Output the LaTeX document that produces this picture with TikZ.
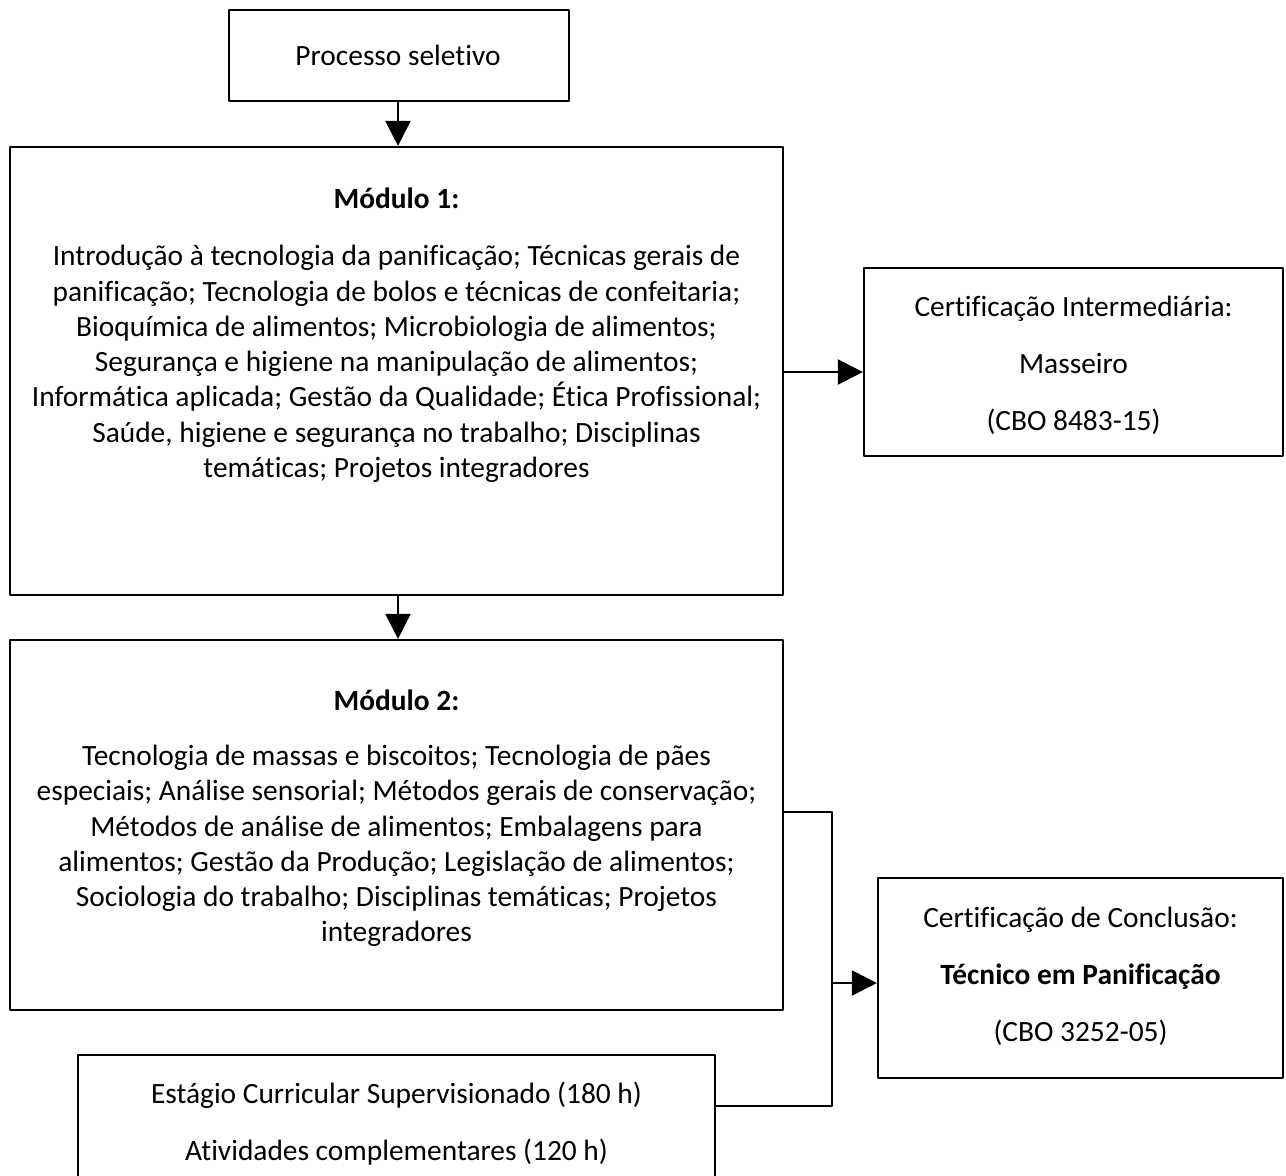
\documentclass[tikz,border=0pt]{standalone}
\usepackage{fontspec}
\setmainfont{Carlito}[Ligatures=CommonOff]
\usetikzlibrary{arrows.meta,fit,positioning}

\begin{document}
\begin{tikzpicture}[x=0.5pt,y=-0.5pt,line cap=round,line join=round]
    % styles
    \tikzstyle{box}=[draw=black,line width=1.1pt,inner sep=0pt]
    \tikzstyle{txt}=[font=\fontsize{14.7}{17.65}\selectfont,align=center,inner sep=0pt]
    \tikzstyle{cert}=[font=\fontsize{14.7}{28.5}\selectfont,align=center,inner sep=0pt]
    \tikzstyle{arr}=[line width=1.1pt,-{Triangle[length=12.5pt,width=12.5pt]}]
    \tikzstyle{wire}=[line width=1.1pt]

    % page (the bottom box runs off the page)
    \useasboundingbox (0,0) rectangle (1286,1175);
    \clip (0,0) rectangle (1286,1175);

    % ----------------------------------------------------
    % left column
    % ----------------------------------------------------
    \node[box,fit={(229,10) (569,101)}] (proc) {};
    \node[txt] (proctxt) at (398,55) {Processo seletivo};

    \node[box,fit={(10,147) (783,595)}] (mod1) {};
    \node[txt,font=\fontsize{14.7}{17.65}\selectfont\bfseries] (mod1title) at (396.5,198) {Módulo 1:};
    \node[txt] (mod1txt) at (396.5,364) {Introdução à tecnologia da panificação; Técnicas gerais de\\
      panificação; Tecnologia de bolos e técnicas de confeitaria;\\
      Bioquímica de alimentos; Microbiologia de alimentos;\\
      Segurança e higiene na manipulação de alimentos;\\
      Informática aplicada; Gestão da Qualidade; Ética Profissional;\\
      Saúde, higiene e segurança no trabalho; Disciplinas\\
      temáticas; Projetos integradores};

    \node[box,fit={(10,640) (783,1010)}] (mod2) {};
    \node[txt,font=\fontsize{14.7}{17.65}\selectfont\bfseries] (mod2title) at (396.5,700) {Módulo 2:};
    \node[txt] (mod2txt) at (396.5,846) {Tecnologia de massas e biscoitos; Tecnologia de pães\\
      especiais; Análise sensorial; Métodos gerais de conservação;\\
      Métodos de análise de alimentos; Embalagens para\\
      alimentos; Gestão da Produção; Legislação de alimentos;\\
      Sociologia do trabalho; Disciplinas temáticas; Projetos\\
      integradores};

    % estagio box (cut by the page edge)
    \node[box,fit={(78,1055) (715,1240)}] (estagio) {};
    \node[cert] (estagiotxt) at (396.5,1124) {Estágio Curricular Supervisionado (180 h)\\
      Atividades complementares (120 h)};

    % ----------------------------------------------------
    % right column: certificates
    % ----------------------------------------------------
    \node[box,fit={(864,268) (1283,456)}] (cert1) {};
    \node[cert] (cert1txt) at (1073.5,365.5) {Certificação Intermediária:\\ Masseiro\\ (CBO 8483-15)};

    \node[box,fit={(878,878) (1283,1078)}] (cert2) {};
    \node[cert] (cert2txt) at (1080.5,976) {Certificação de Conclusão:\\
      \textbf{Técnico em Panificação}\\ (CBO 3252-05)};

    % connectors
    \draw[arr] (proc.south -| 398,0) -- (mod1.north -| 398,0);
    \draw[arr] (mod1.south -| 398,0) -- (mod2.north -| 398,0);
    \draw[arr] (mod1.east |- 0,372) -- (cert1.west |- 0,372);

    % bracket joining module 2 and estagio
    \coordinate (join) at (832,983);
    \draw[wire] (mod2.east |- 0,812) -| (join) |- (estagio.east |- 0,1106);
    \draw[arr] (join) -- (cert2.west |- join);
\end{tikzpicture}
\end{document}
